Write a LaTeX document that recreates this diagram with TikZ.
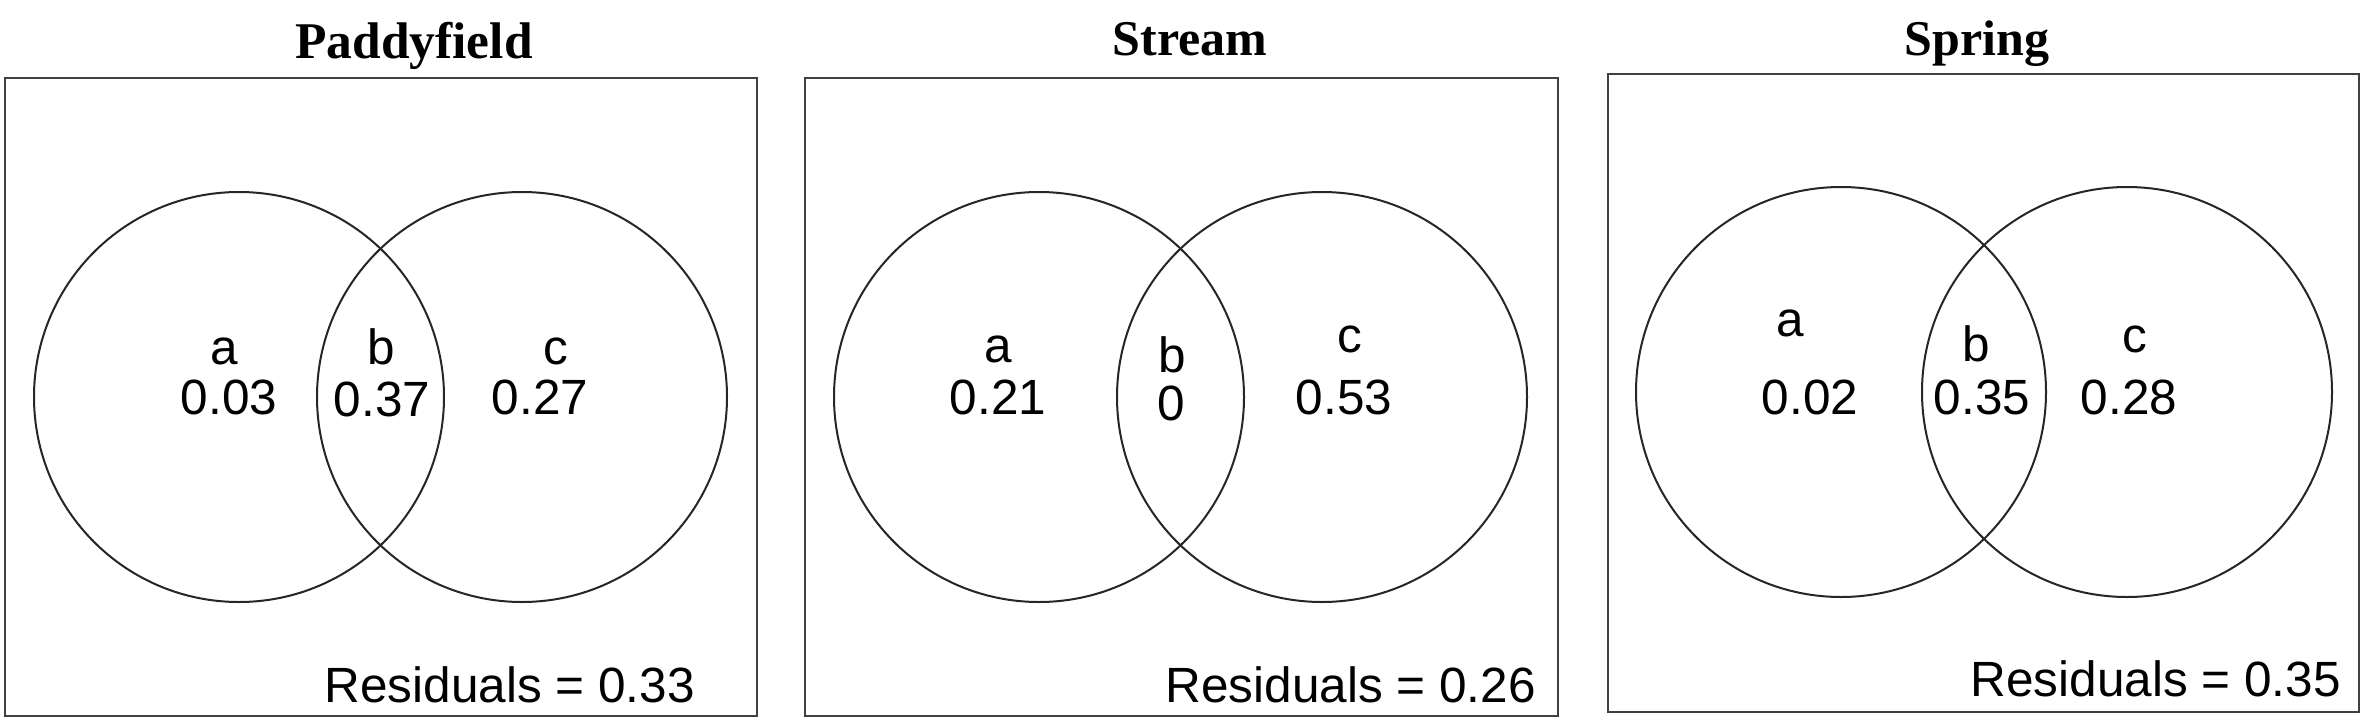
\documentclass[tikz,border=0pt]{standalone}
\usepackage{fontspec}
\setmainfont{Liberation Serif}
\newfontfamily\arialf{Liberation Sans}
\begin{document}
\begin{tikzpicture}[x=1pt,y=-1pt,
  panel/.style={draw=black!75,line width=2.4pt},
  venn/.style={circle,draw=black!85,line width=2pt,minimum size=410pt,inner sep=0pt},
  ttl/.style={font=\bfseries\fontsize{50}{52}\selectfont,inner sep=0pt,anchor=base},
  lbl/.style={font=\arialf\fontsize{49.5}{52}\selectfont,inner sep=0pt,anchor=base},
  res/.style={font=\arialf\fontsize{49.5}{52}\selectfont,inner sep=0pt,anchor=base east}]
\useasboundingbox (0,0) rectangle (2367,723);
\fill[white] (0,0) rectangle (2367,723);
% Panel 1
\node[ttl,font=\bfseries\fontsize{51.5}{53}\selectfont] (t1) at (414,58) {Paddyfield};
\draw[panel] (5,78) rectangle (757,716);
\node[venn] (p1l) at (239,397) {};
\node[venn] (p1r) at (522,397) {};
\node[lbl] (p1a) at (224,364) {a};
\node[lbl] (p1av) at (229,414) {0.03};
\node[lbl] (p1b) at (381,364) {b};
\node[lbl] (p1bv) at (382,416) {0.37};
\node[lbl] (p1c) at (556,364) {c};
\node[lbl] (p1cv) at (540,414) {0.27};
\node[res] (p1res) at (695,702) {Residuals = 0.33};
% Panel 2
\node[ttl] (t2) at (1190,55) {Stream};
\draw[panel] (805,78) rectangle (1558,716);
\node[venn] (p2l) at (1039,397) {};
\node[venn] (p2r) at (1322,397) {};
\node[lbl] (p2a) at (998,362) {a};
\node[lbl] (p2av) at (998,414) {0.21};
\node[lbl] (p2b) at (1172,372) {b};
\node[lbl] (p2bv) at (1171,420) {0};
\node[lbl] (p2c) at (1350,352) {c};
\node[lbl] (p2cv) at (1344,414) {0.53};
\node[res] (p2res) at (1536,702) {Residuals = 0.26};
% Panel 3
\node[ttl] (t3) at (1977,55) {Spring};
\draw[panel] (1608,74) rectangle (2359,712);
\node[venn] (p3l) at (1841,392) {};
\node[venn] (p3r) at (2127,392) {};
\node[lbl] (p3a) at (1790,336) {a};
\node[lbl] (p3av) at (1810,414) {0.02};
\node[lbl] (p3b) at (1976,361) {b};
\node[lbl] (p3bv) at (1982,414) {0.35};
\node[lbl] (p3c) at (2135,352) {c};
\node[lbl] (p3cv) at (2129,414) {0.28};
\node[res] (p3res) at (2341,696) {Residuals = 0.35};
\end{tikzpicture}
\end{document}
